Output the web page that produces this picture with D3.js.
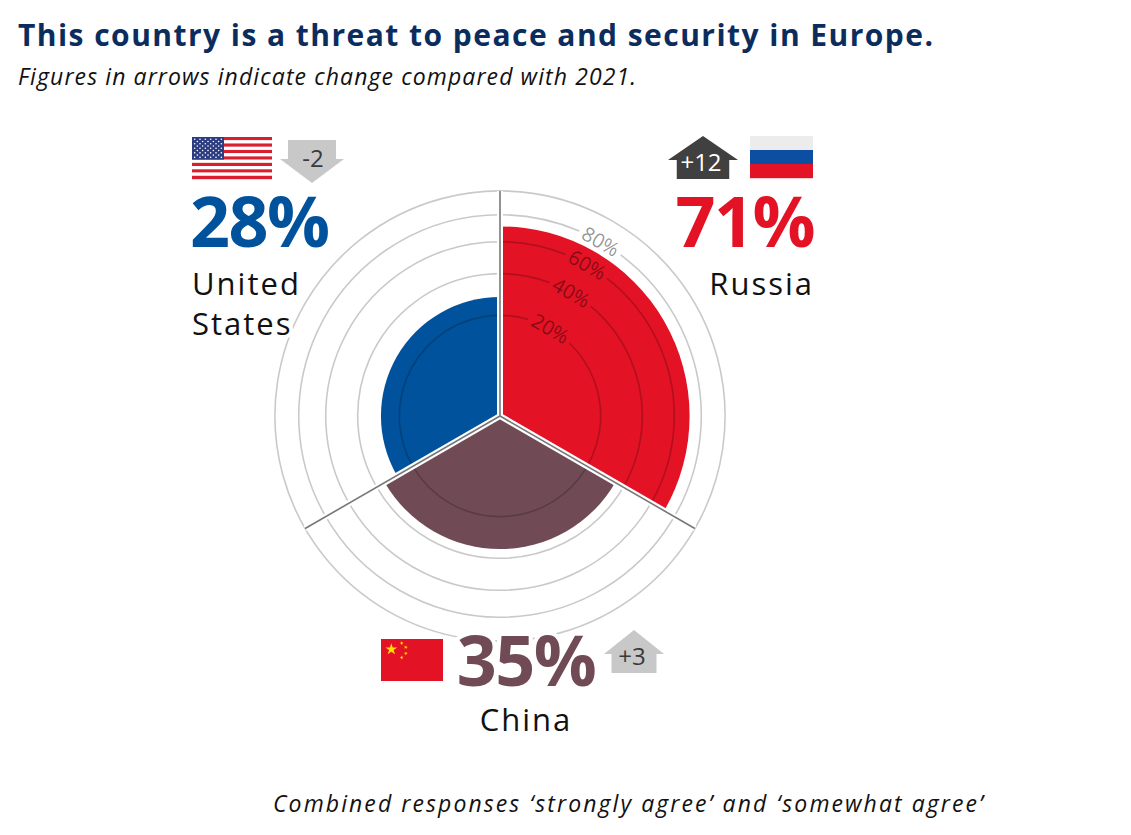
<!DOCTYPE html>
<html>
<head>
<meta charset="utf-8">
<script src="https://cdn.jsdelivr.net/npm/d3@7"></script>
<style>
  body { margin: 0; background: #fff; }
  svg { display: block; font-family: 'Open Sans', sans-serif; }
</style>
</head>
<body>
<div id="chart"></div>
<script>
// Threat perception polar chart

// Data
const countries = ['Russia', 'China', 'United States'];
const shares = [71, 35, 28];          // % strongly + somewhat agree
const changes = [12, 3, -2];          // change vs 2021, points
const ringTicks = [20, 40, 60, 80, 100];
const tickLabels = ['20%', '40%', '60%', '80%'];

const title = 'This country is a threat to peace and security in Europe.';
const subtitle = 'Figures in arrows indicate change compared with 2021.';
const footnote = 'Combined responses \u2018strongly agree\u2019 and \u2018somewhat agree\u2019';

// Styles and placement
const color = { 'Russia': '#e31225', 'China': '#704b56', 'United States': '#00529c' };
const arrowStyle = {
  'Russia': { fill: '#404040', text: '#fff' },
  'China': { fill: '#c8c8c8', text: '#3a3a3a' },
  'United States': { fill: '#c8c8c8', text: '#3a3a3a' },
};
const layout = {
  'Russia': { anchor: 'end', x: 814, valueY: 247, nameLines: ['Russia'], nameY: 295,
              flag: [750, 136], arrow: [703, 136], arrowW: 70 },
  'China': { anchor: 'middle', x: 526, valueY: 686, nameLines: ['China'], nameY: 731,
             flag: [381, 639], arrow: [634, 630], arrowW: 60 },
  'United States': { anchor: 'start', x: 190, valueY: 247, nameLines: ['United', 'States'], nameY: 295,
                     flag: [192, 137], arrow: [312, 140], arrowW: 64 },
};

const W = 1131, H = 835;
const cx = 500, cy = 416, R = 225;

const svg = d3.select('#chart').append('svg')
  .attr('width', W)
  .attr('height', H);

// Titles
svg.append('text')
  .attr('x', 18).attr('y', 46)
  .attr('fill', '#0b2d5e')
  .attr('font-size', 30)
  .attr('font-weight', 700)
  .attr('textLength', 915)
  .attr('lengthAdjust', 'spacing')
  .text(title);

svg.append('text')
  .attr('x', 18).attr('y', 85)
  .attr('fill', '#111')
  .attr('font-size', 23)
  .attr('font-style', 'italic')
  .attr('textLength', 618)
  .attr('lengthAdjust', 'spacing')
  .text(subtitle);

svg.append('text')
  .attr('x', 273).attr('y', 812)
  .attr('fill', '#111')
  .attr('font-size', 23)
  .attr('font-style', 'italic')
  .attr('textLength', 710)
  .attr('lengthAdjust', 'spacing')
  .text(footnote);

// Scales
const angle = d3.scaleBand()
  .domain(countries)
  .range([0, 2 * Math.PI]);
const radius = d3.scaleSqrt()
  .domain([0, 100])
  .range([0, R]);

const frame = svg.append('g')
  .attr('transform', `translate(${cx} ${cy})`);

// Sectors
const rows = countries.map((c, i) => ({ country: c, value: shares[i], change: changes[i] }));
const sectorArc = d3.arc()
  .innerRadius(0)
  .outerRadius(d => radius(d.value))
  .startAngle(d => angle(d.country))
  .endAngle(d => angle(d.country) + angle.bandwidth());

frame.append('g')
  .selectAll('path')
  .data(rows)
  .join('path')
  .attr('d', sectorArc)
  .attr('fill', d => color[d.country]);

// Rings, with a gap where the tick label sits
const labelAngle = Math.PI / 6;
const ringArc = d3.arc();

frame.append('g')
  .selectAll('path')
  .data(ringTicks)
  .join('path')
  .attr('d', d => {
    const r = radius(d);
    const gap = d < 100 ? 24 / r : 0;
    return ringArc({ startAngle: labelAngle + gap, endAngle: labelAngle + 2 * Math.PI - gap, innerRadius: r, outerRadius: r });
  })
  .attr('fill', 'none')
  .attr('stroke', 'rgba(0,0,0,0.21)')
  .attr('stroke-width', 1.6);

// Dividers between sectors
const dividers = frame.append('g');
countries.forEach(c => {
  const a = angle(c);
  const x2 = Math.sin(a) * R, y2 = -Math.cos(a) * R;
  dividers.append('line')
    .attr('x1', 0).attr('y1', 0).attr('x2', x2).attr('y2', y2)
    .attr('stroke', '#fff').attr('stroke-width', 6);
});
countries.forEach(c => {
  const a = angle(c);
  const x2 = Math.sin(a) * R, y2 = -Math.cos(a) * R;
  dividers.append('line')
    .attr('x1', 0).attr('y1', 0).attr('x2', x2).attr('y2', y2)
    .attr('stroke', '#777').attr('stroke-width', 1.6);
});

// Tick labels
frame.append('g')
  .selectAll('text')
  .data(tickLabels)
  .join('text')
  .attr('transform', (d, i) => {
    const r = radius(ringTicks[i]);
    return `translate(${Math.sin(labelAngle) * r} ${-Math.cos(labelAngle) * r}) rotate(30)`;
  })
  .attr('text-anchor', 'middle')
  .attr('dy', '0.35em')
  .attr('fill', 'rgba(0,0,0,0.42)')
  .attr('font-size', 20)
  .text(d => d);

// Country labels
const labels = svg.append('g');
rows.forEach(d => {
  const L = layout[d.country];
  labels.append('text')
    .attr('x', L.x).attr('y', L.valueY)
    .attr('text-anchor', L.anchor)
    .attr('fill', color[d.country])
    .attr('font-size', 70)
    .attr('font-weight', 700)
    .attr('letter-spacing', -1.5)
    .attr('stroke', '#fff').attr('stroke-width', 8)
    .attr('paint-order', 'stroke')
    .text(d.value + '%');

  L.nameLines.forEach((line, j) => {
    labels.append('text')
      .attr('x', L.anchor === 'start' ? L.x + 2 : L.x)
      .attr('y', L.nameY + j * 40)
      .attr('text-anchor', L.anchor)
      .attr('fill', '#111')
      .attr('font-size', 31)
      .attr('letter-spacing', 2)
      .attr('stroke', '#fff').attr('stroke-width', 8)
      .attr('paint-order', 'stroke')
      .text(line);
  });
});

// Change arrows
const headH = 24, bodyH = 19;
rows.forEach(d => {
  const L = layout[d.country];
  const [ax, ay] = L.arrow;
  const headW = L.arrowW, bodyW = L.arrowW * 0.75;
  const up = d.change > 0;
  const pts = up
    ? [[0, 0], [headW / 2, headH], [bodyW / 2, headH], [bodyW / 2, headH + bodyH],
       [-bodyW / 2, headH + bodyH], [-bodyW / 2, headH], [-headW / 2, headH]]
    : [[-bodyW / 2, 0], [bodyW / 2, 0], [bodyW / 2, bodyH], [headW / 2, bodyH],
       [0, bodyH + headH], [-headW / 2, bodyH], [-bodyW / 2, bodyH]];
  const g = labels.append('g').attr('transform', `translate(${ax} ${ay})`);
  g.append('path')
    .attr('d', d3.line()(pts) + 'Z')
    .attr('fill', arrowStyle[d.country].fill);
  g.append('text')
    .attr('x', up ? -2 : 1)
    .attr('y', up ? 27 : 19)
    .attr('text-anchor', 'middle')
    .attr('dy', '0.35em')
    .attr('fill', arrowStyle[d.country].text)
    .attr('font-size', 24)
    .text((d.change > 0 ? '+' : '') + d.change);
});

// Flags
function flagUS(g, w, h) {
  const sh = h / 13;
  for (let i = 0; i < 13; i++) {
    g.append('rect').attr('x', 0).attr('y', i * sh).attr('width', w).attr('height', sh + 0.2)
      .attr('fill', i % 2 ? '#fff' : '#d81e2f');
  }
  const cw = w * 0.4, ch = sh * 7;
  g.append('rect').attr('width', cw).attr('height', ch).attr('fill', '#2b3d80');
  for (let r = 0; r < 9; r++) {
    const n = r % 2 ? 5 : 6;
    for (let k = 0; k < n; k++) {
      g.append('circle')
        .attr('cx', (r % 2 ? 2 * k + 2 : 2 * k + 1) * cw / 12)
        .attr('cy', (r + 1) * ch / 10)
        .attr('r', 0.8)
        .attr('fill', '#fff');
    }
  }
}
function flagRU(g, w, h) {
  ['#ececec', '#0b4ea2', '#e31225'].forEach((c, i) => {
    g.append('rect').attr('y', i * h / 3).attr('width', w).attr('height', h / 3 + 0.2).attr('fill', c);
  });
}
function star(cx0, cy0, r, rot) {
  const p = [];
  for (let i = 0; i < 10; i++) {
    const a = rot + i * Math.PI / 5 - Math.PI / 2;
    const rr = i % 2 ? r * 0.382 : r;
    p.push([cx0 + Math.cos(a) * rr, cy0 + Math.sin(a) * rr]);
  }
  return d3.line()(p) + 'Z';
}
function flagCN(g, w, h) {
  g.append('rect').attr('width', w).attr('height', h).attr('fill', '#e31225');
  const u = w / 30;
  g.append('path').attr('d', star(5 * u, 5 * u, 3 * u, 0)).attr('fill', '#ffde00');
  [[10, 2], [12, 4], [12, 7], [10, 9]].forEach(([sx, sy]) => {
    g.append('path').attr('d', star(sx * u, sy * u, u, Math.atan2(sy - 5, sx - 5) + Math.PI / 2)).attr('fill', '#ffde00');
  });
}
const flagFns = { 'Russia': [flagRU, 63, 42], 'China': [flagCN, 62, 42], 'United States': [flagUS, 80, 42] };
rows.forEach(d => {
  const [fx, fy] = layout[d.country].flag;
  const [fn, w, h] = flagFns[d.country];
  fn(labels.append('g').attr('transform', `translate(${fx} ${fy})`), w, h);
});
</script>
</body>
</html>
